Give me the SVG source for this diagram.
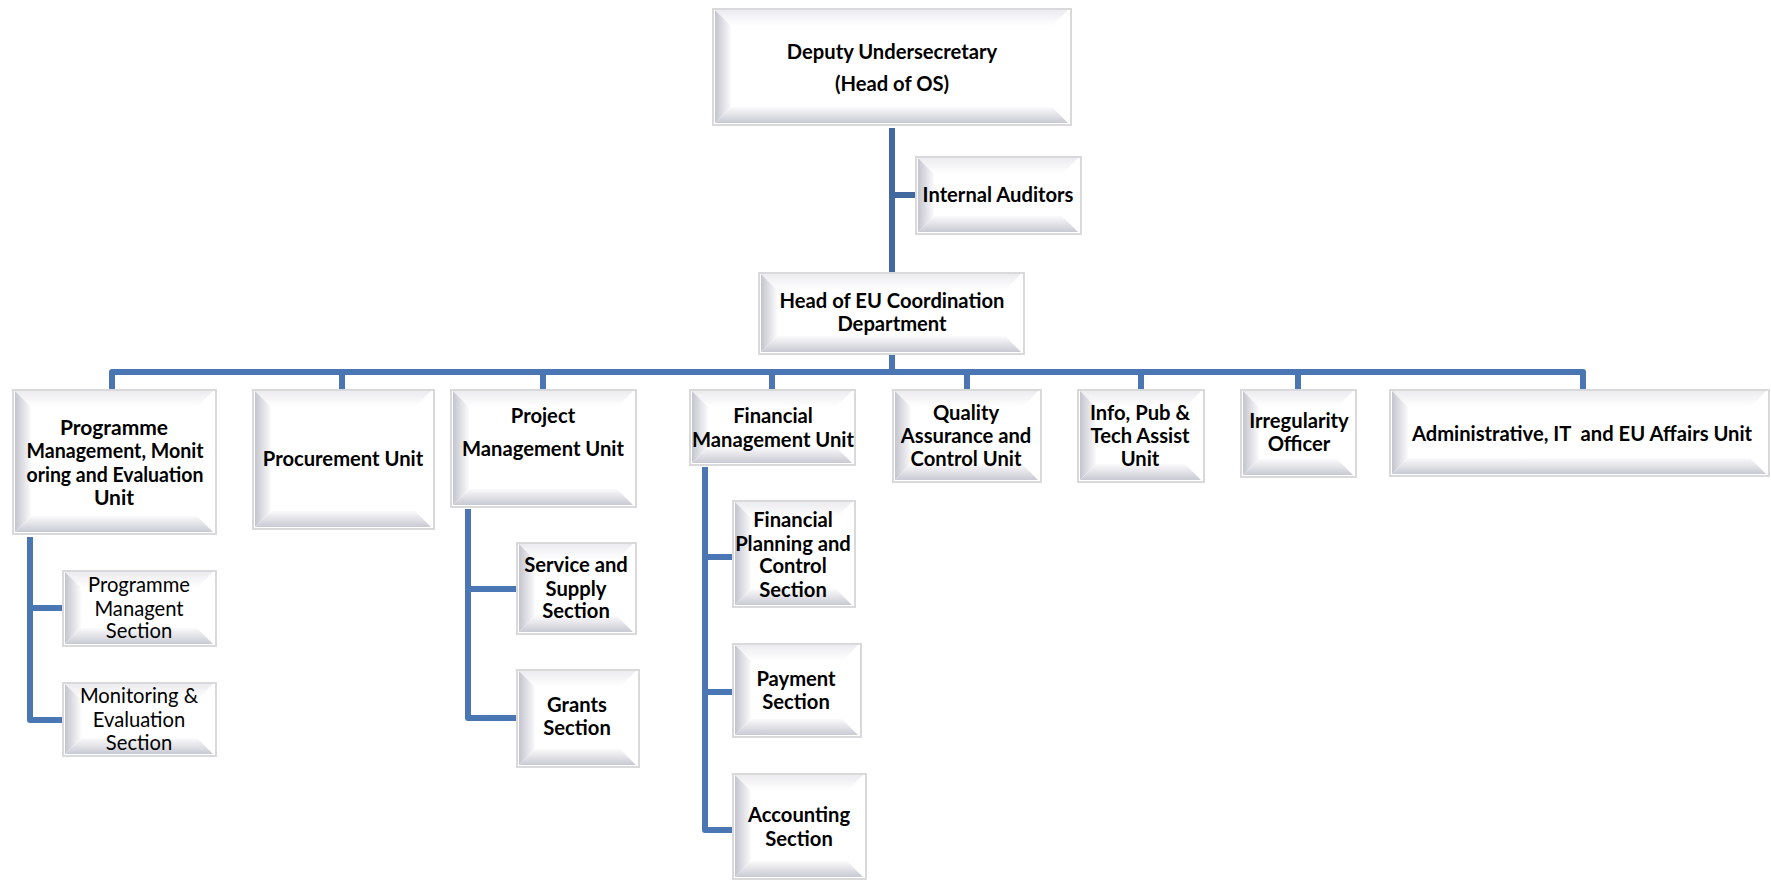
<svg xmlns="http://www.w3.org/2000/svg" width="1771" height="881" viewBox="0 0 1771 881">
<style>
.ol{fill:#fff;stroke:#d9d9db;stroke-width:2}
.bl{fill:url(#gL)}
.bb{fill:url(#gB)}
.bt{fill:url(#gT)}
.t{font-family:Lato,"Liberation Sans",sans-serif;font-weight:700;font-size:20.2px;text-anchor:middle;fill:#000}
.r{font-weight:400}
.c{fill:none;stroke:#4a77b4;stroke-width:6;stroke-linejoin:round}
.c2{fill:none;stroke:#41699f;stroke-width:6}
</style>
<defs>
<linearGradient id="gL" x1="0" y1="0" x2="1" y2="0"><stop offset="0" stop-color="#c4c4cf"/><stop offset="1" stop-color="#fbfbfc"/></linearGradient>
<linearGradient id="gB" x1="0" y1="0" x2="0" y2="1"><stop offset="0" stop-color="#fbfbfc"/><stop offset="1" stop-color="#c9c9d3"/></linearGradient>
<linearGradient id="gT" x1="0" y1="0" x2="0" y2="1"><stop offset="0" stop-color="#ececf0"/><stop offset="1" stop-color="#ffffff"/></linearGradient>
</defs>
<rect width="1771" height="881" fill="#fff"/>
<g id="connectors">
<path class="c2" d="M892,128 V272 M892,195 H915"/>
<path class="c" d="M892,355 V372"/>
<path class="c" d="M112,389 V372 H1583 V389"/>
<path class="c" d="M342,372 V389 M543,372 V389 M772,372 V389 M967,372 V389 M1141,372 V389 M1298,372 V389"/>
<path class="c" d="M30,537 V720 H62 M30,608 H62"/>
<path class="c" d="M468,509 V718 H516 M468,589 H516"/>
<path class="c" d="M705,467 V830 H732 M705,557 H732 M705,692 H732"/>
</g>
<g id="deputy">
<rect class="ol" x="713" y="9" width="358" height="116"/>
<polygon class="bt" points="715,10 1068,10 1052,26 731,26"/>
<polygon class="bl" points="715,10 731,26 731,107 715,123"/>
<polygon class="bb" points="715,123 731,107 1052,107 1068,123"/>
<text class="t" x="892" y="59">Deputy Undersecretary</text>
<text class="t" x="892" y="91">(Head of OS)</text>
</g>
<g id="internal-auditors">
<rect class="ol" x="916" y="157" width="165" height="77"/>
<polygon class="bt" points="918,158 1078,158 1062,174 934,174"/>
<polygon class="bl" points="918,158 934,174 934,216 918,232"/>
<polygon class="bb" points="918,232 934,216 1062,216 1078,232"/>
<text class="t" x="998" y="202">Internal Auditors</text>
</g>
<g id="head-eu">
<rect class="ol" x="759" y="273" width="265" height="81"/>
<polygon class="bt" points="761,274 1021,274 1005,290 777,290"/>
<polygon class="bl" points="761,274 777,290 777,336 761,352"/>
<polygon class="bb" points="761,352 777,336 1005,336 1021,352"/>
<text class="t" x="892" y="308">Head of EU Coordination</text>
<text class="t" x="892" y="331">Department</text>
</g>
<g id="pmme">
<rect class="ol" x="13" y="390" width="203" height="144"/>
<polygon class="bt" points="15,391 213,391 197,407 31,407"/>
<polygon class="bl" points="15,391 31,407 31,516 15,532"/>
<polygon class="bb" points="15,532 31,516 197,516 213,532"/>
<text class="t" x="114" y="435" style="font-size:21px">Programme</text>
<text class="t" x="115" y="458" style="font-size:21px" textLength="177" lengthAdjust="spacingAndGlyphs">Management, Monit</text>
<text class="t" x="115" y="482" style="font-size:21px" textLength="177" lengthAdjust="spacingAndGlyphs">oring and Evaluation</text>
<text class="t" x="114" y="505" style="font-size:21px">Unit</text>
</g>
<g id="procurement">
<rect class="ol" x="253" y="390" width="181" height="139"/>
<polygon class="bt" points="255,391 431,391 415,407 271,407"/>
<polygon class="bl" points="255,391 271,407 271,511 255,527"/>
<polygon class="bb" points="255,527 271,511 415,511 431,527"/>
<text class="t" x="343" y="466">Procurement Unit</text>
</g>
<g id="project">
<rect class="ol" x="451" y="390" width="185" height="117"/>
<polygon class="bt" points="453,391 633,391 617,407 469,407"/>
<polygon class="bl" points="453,391 469,407 469,489 453,505"/>
<polygon class="bb" points="453,505 469,489 617,489 633,505"/>
<text class="t" x="543" y="423">Project</text>
<text class="t" x="543" y="456">Management Unit</text>
</g>
<g id="financial">
<rect class="ol" x="690" y="390" width="165" height="75"/>
<polygon class="bt" points="692,391 852,391 836,407 708,407"/>
<polygon class="bl" points="692,391 708,407 708,447 692,463"/>
<polygon class="bb" points="692,463 708,447 836,447 852,463"/>
<text class="t" x="773" y="423">Financial</text>
<text class="t" x="773" y="447">Management Unit</text>
</g>
<g id="quality">
<rect class="ol" x="893" y="390" width="148" height="92"/>
<polygon class="bt" points="895,391 1038,391 1022,407 911,407"/>
<polygon class="bl" points="895,391 911,407 911,464 895,480"/>
<polygon class="bb" points="895,480 911,464 1022,464 1038,480"/>
<text class="t" x="966" y="420">Quality</text>
<text class="t" x="966" y="443">Assurance and</text>
<text class="t" x="966" y="466">Control Unit</text>
</g>
<g id="info">
<rect class="ol" x="1078" y="390" width="126" height="92"/>
<polygon class="bt" points="1080,391 1201,391 1185,407 1096,407"/>
<polygon class="bl" points="1080,391 1096,407 1096,464 1080,480"/>
<polygon class="bb" points="1080,480 1096,464 1185,464 1201,480"/>
<text class="t" x="1140" y="420">Info, Pub &amp;</text>
<text class="t" x="1140" y="443">Tech Assist</text>
<text class="t" x="1140" y="466">Unit</text>
</g>
<g id="irregularity">
<rect class="ol" x="1241" y="390" width="115" height="87"/>
<polygon class="bt" points="1243,391 1353,391 1337,407 1259,407"/>
<polygon class="bl" points="1243,391 1259,407 1259,459 1243,475"/>
<polygon class="bb" points="1243,475 1259,459 1337,459 1353,475"/>
<text class="t" x="1299" y="428">Irregularity</text>
<text class="t" x="1299" y="451">Officer</text>
</g>
<g id="admin">
<rect class="ol" x="1390" y="390" width="379" height="86"/>
<polygon class="bt" points="1392,391 1766,391 1750,407 1408,407"/>
<polygon class="bl" points="1392,391 1408,407 1408,458 1392,474"/>
<polygon class="bb" points="1392,474 1408,458 1750,458 1766,474"/>
<text class="t" x="1582" y="441" style="white-space:pre">Administrative, IT  and EU Affairs Unit</text>
</g>
<g id="programme-section">
<rect class="ol" x="63" y="571" width="153" height="75"/>
<polygon class="bt" points="65,572 213,572 197,588 81,588"/>
<polygon class="bl" points="65,572 81,588 81,628 65,644"/>
<polygon class="bb" points="65,644 81,628 197,628 213,644"/>
<text class="t r" x="139" y="592">Programme</text>
<text class="t r" x="139" y="616">Managent</text>
<text class="t r" x="139" y="638">Section</text>
</g>
<g id="monitoring-section">
<rect class="ol" x="63" y="683" width="153" height="73"/>
<polygon class="bt" points="65,684 213,684 197,700 81,700"/>
<polygon class="bl" points="65,684 81,700 81,738 65,754"/>
<polygon class="bb" points="65,754 81,738 197,738 213,754"/>
<text class="t r" x="139" y="703">Monitoring &amp;</text>
<text class="t r" x="139" y="727">Evaluation</text>
<text class="t r" x="139" y="750">Section</text>
</g>
<g id="service-section">
<rect class="ol" x="517" y="543" width="119" height="91"/>
<polygon class="bt" points="519,544 633,544 617,560 535,560"/>
<polygon class="bl" points="519,544 535,560 535,616 519,632"/>
<polygon class="bb" points="519,632 535,616 617,616 633,632"/>
<text class="t" x="576" y="572">Service and</text>
<text class="t" x="576" y="596">Supply</text>
<text class="t" x="576" y="618">Section</text>
</g>
<g id="grants-section">
<rect class="ol" x="517" y="670" width="122" height="97"/>
<polygon class="bt" points="519,671 636,671 620,687 535,687"/>
<polygon class="bl" points="519,671 535,687 535,749 519,765"/>
<polygon class="bb" points="519,765 535,749 620,749 636,765"/>
<text class="t" x="577" y="712">Grants</text>
<text class="t" x="577" y="735">Section</text>
</g>
<g id="fpc-section">
<rect class="ol" x="733" y="501" width="122" height="106"/>
<polygon class="bt" points="735,502 852,502 836,518 751,518"/>
<polygon class="bl" points="735,502 751,518 751,589 735,605"/>
<polygon class="bb" points="735,605 751,589 836,589 852,605"/>
<text class="t" x="793" y="527">Financial</text>
<text class="t" x="793" y="551">Planning and</text>
<text class="t" x="793" y="573">Control</text>
<text class="t" x="793" y="597">Section</text>
</g>
<g id="payment-section">
<rect class="ol" x="733" y="644" width="128" height="93"/>
<polygon class="bt" points="735,645 858,645 842,661 751,661"/>
<polygon class="bl" points="735,645 751,661 751,719 735,735"/>
<polygon class="bb" points="735,735 751,719 842,719 858,735"/>
<text class="t" x="796" y="686">Payment</text>
<text class="t" x="796" y="709">Section</text>
</g>
<g id="accounting-section">
<rect class="ol" x="733" y="774" width="133" height="105"/>
<polygon class="bt" points="735,775 863,775 847,791 751,791"/>
<polygon class="bl" points="735,775 751,791 751,861 735,877"/>
<polygon class="bb" points="735,877 751,861 847,861 863,877"/>
<text class="t" x="799" y="822">Accounting</text>
<text class="t" x="799" y="846">Section</text>
</g>
</svg>
